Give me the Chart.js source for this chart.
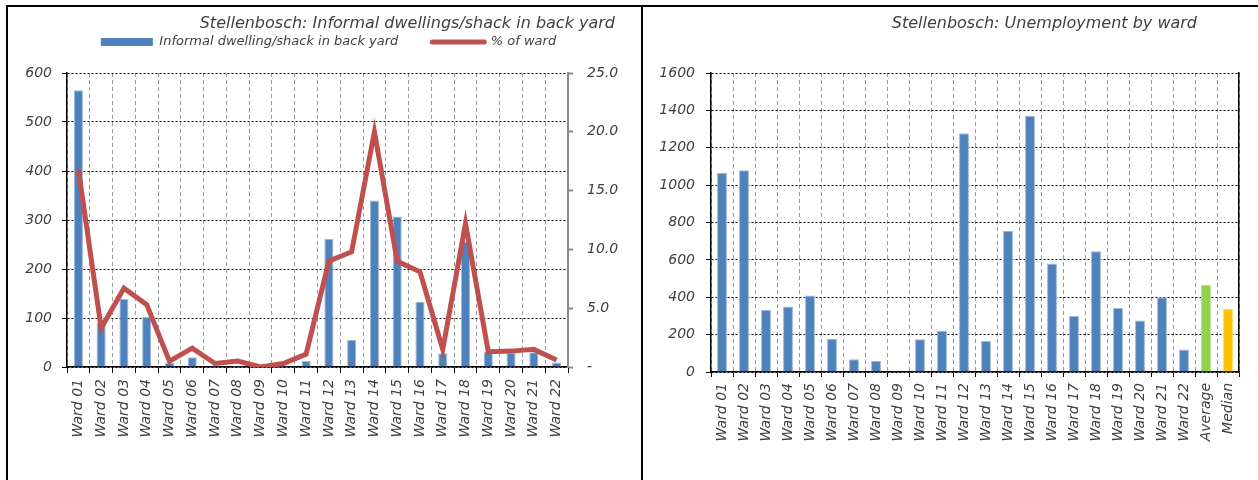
<!DOCTYPE html>
<html>
<head>
<meta charset="utf-8">
<title>Stellenbosch wards</title>
<script src="https://cdn.jsdelivr.net/npm/chart.js@4.4.1/dist/chart.umd.min.js"></script>
<style>
    body { margin: 0; background: #fff; width: 1258px; height: 480px; overflow: hidden; position: relative; }
    .frame { position: absolute; background: #000; }
    canvas { position: absolute; top: 8px; }
    #backyardChart { left: 9px; }
    #unemploymentChart { left: 644px; }
</style>
</head>
<body>
<div class="frame" style="left:6px;top:5px;width:1252px;height:2px"></div>
<div class="frame" style="left:6px;top:5px;width:2px;height:475px"></div>
<div class="frame" style="left:641px;top:5px;width:2px;height:475px"></div>
<canvas id="backyardChart" width="631" height="472"></canvas>
<canvas id="unemploymentChart" width="614" height="472"></canvas>

<script>
// ward labels
let wards = ["Ward 01", "Ward 02", "Ward 03", "Ward 04", "Ward 05", "Ward 06", "Ward 07", "Ward 08",
    "Ward 09", "Ward 10", "Ward 11", "Ward 12", "Ward 13", "Ward 14", "Ward 15", "Ward 16",
    "Ward 17", "Ward 18", "Ward 19", "Ward 20", "Ward 21", "Ward 22"];

// left chart: informal dwellings in back yard
let shacks = [565, 90, 139, 102, 8, 20, 3, 2, 0, 2, 13, 261, 55, 340, 307, 133, 28, 256, 31, 29, 30, 9];
let shacksPct = [16.8, 3.3, 6.7, 5.3, 0.5, 1.6, 0.3, 0.5, 0.0, 0.3, 1.1, 9.0, 9.8, 20.0, 9.0, 8.1, 1.5, 12.2, 1.3, 1.35, 1.5, 0.6];
let shackTicks = [0, 100, 200, 300, 400, 500, 600];
let pctTicks = [0, 5, 10, 15, 20, 25];

// right chart: unemployment
let unemployCats = wards.concat(["Average", "Median"]);
let unemployed = [1066, 1079, 332, 351, 410, 177, 68, 59, 4, 175, 221, 1277, 166, 754, 1371, 581,
    300, 646, 342, 275, 400, 121, 465, 337];
let unemployTicks = [0, 200, 400, 600, 800, 1000, 1200, 1400, 1600];

const blue = "#4F81BD";
const red = "#C0504D";
const green = "#92D050";
const orange = "#FFC000";
const textColor = "#404040";

Chart.defaults.font.family = "'DejaVu Sans', sans-serif";
Chart.defaults.font.style = "italic";
Chart.defaults.font.size = 14;
Chart.defaults.color = textColor;
Chart.defaults.animation = false;

// moves title / legend after layout (excel puts them off-centre)
const nudge = {
    id: "nudge",
    afterLayout(chart, args, opts) {
        let t = chart.titleBlock;
        if (t && opts.titleX) {
            t.left += opts.titleX;
            t.right += opts.titleX;
        }
        let l = chart.legend;
        if (l && l.options.display) {
            l.left += opts.legendX || 0;
            l.right += opts.legendX || 0;
            // only the top moves, the legend clips to its own box
            l.top += opts.legendY || 0;
        }
    }
};

function tickList(values) {
    return (scale) => {
        scale.ticks = values.map(v => ({ value: v }));
    };
}

function backyardChart() {
    new Chart("backyardChart", {
        type: "bar",
        data: {
            labels: wards,
            datasets: [{
                label: "Informal dwelling/shack in back yard",
                data: shacks,
                backgroundColor: blue,
                borderColor: "#9DB8DA",
                borderWidth: 1,
                barPercentage: 0.8,
                categoryPercentage: 0.5,
                yAxisID: "y",
                order: 2
            }, {
                type: "line",
                label: "% of ward",
                data: shacksPct,
                borderColor: red,
                backgroundColor: red,
                borderWidth: 5,
                pointRadius: 0,
                tension: 0,
                yAxisID: "y1",
                order: 1
            }]
        },
        options: {
            responsive: false,
            layout: { padding: 0 },
            plugins: {
                nudge: { titleX: -25, legendX: 4, legendY: -31.7 },
                tooltip: { enabled: false },
                title: {
                    display: true,
                    text: "Stellenbosch: Informal dwellings/shack in back yard",
                    align: "end",
                    font: { size: 16, weight: "normal" },
                    padding: { top: 6, bottom: 0 }
                },
                legend: {
                    position: "top",
                    maxHeight: 39.8,
                    labels: {
                        usePointStyle: true,
                        pointStyleWidth: 52,
                        boxHeight: 8,
                        padding: 34,
                        font: { size: 13 },
                        generateLabels: (chart) => {
                            let items = Chart.defaults.plugins.legend.labels.generateLabels(chart);
                            items.forEach(it => {
                                if (it.datasetIndex === 0) {
                                    it.pointStyle = "rect";
                                    it.lineWidth = 0;
                                    it.fillStyle = blue;
                                } else {
                                    it.pointStyle = "line";
                                    it.lineWidth = 5;
                                    it.strokeStyle = red;
                                    it.lineCap = "round";
                                }
                            });
                            return items.sort((a, b) => a.datasetIndex - b.datasetIndex);
                        }
                    }
                }
            },
            scales: {
                x: {
                    grid: { color: "#9a9a9a", tickColor: "#000", tickLength: 6, offset: true },
                    border: { color: "#000", width: 1.5, dash: [4, 3] },
                    ticks: { minRotation: 90, maxRotation: 90, autoSkip: false, padding: 6 },
                    afterFit: (s) => { s.height = 113; }
                },
                y: {
                    min: 0,
                    max: 600,
                    afterBuildTicks: tickList(shackTicks),
                    ticks: { padding: 10 },
                    grid: { color: "#000", tickColor: "#000", tickLength: 5 },
                    border: { color: "#000", width: 1.5, dash: [2, 2] },
                    afterFit: (s) => { s.width = 58; }
                },
                y1: {
                    position: "right",
                    min: 0,
                    max: 25,
                    afterBuildTicks: tickList(pctTicks),
                    ticks: {
                        padding: 14,
                        callback: (v) => v === 0 ? "-" : v.toFixed(1)
                    },
                    grid: { drawOnChartArea: false, tickColor: "#8c8c8c", tickLength: 5, tickWidth: 2 },
                    border: { color: "#8c8c8c", width: 2 },
                    afterFit: (s) => { s.width = 72; }
                }
            }
        },
        plugins: [nudge]
    });
}

function unemploymentChart() {
    let barColors = unemployCats.map(c => c === "Average" ? green : c === "Median" ? orange : blue);
    let borderColors = unemployCats.map(c => c === "Average" ? "#B4E07F" : c === "Median" ? "#FFD766" : "#9DB8DA");

    new Chart("unemploymentChart", {
        type: "bar",
        data: {
            labels: unemployCats,
            datasets: [{
                label: "Unemployed",
                data: unemployed,
                backgroundColor: barColors,
                borderColor: borderColors,
                borderWidth: 1,
                barPercentage: 0.9,
                categoryPercentage: 0.5
            }]
        },
        options: {
            responsive: false,
            layout: { padding: { right: 19 } },
            plugins: {
                nudge: { titleX: -42 },
                tooltip: { enabled: false },
                legend: { display: false },
                title: {
                    display: true,
                    text: "Stellenbosch: Unemployment by ward",
                    align: "end",
                    font: { size: 16, weight: "normal" },
                    padding: { top: 6, bottom: 39.8 }
                }
            },
            scales: {
                x: {
                    grid: { color: "#9a9a9a", tickColor: "#000", tickLength: 5, offset: true },
                    border: { color: "#000", width: 1.5, dash: [4, 3] },
                    ticks: { minRotation: 90, maxRotation: 90, autoSkip: false, padding: 6 },
                    afterFit: (s) => { s.height = 108; }
                },
                y: {
                    min: 0,
                    max: 1600,
                    afterBuildTicks: tickList(unemployTicks),
                    ticks: { padding: 11, callback: (v) => String(v) },
                    grid: { color: "#000", tickColor: "#000", tickLength: 5 },
                    border: { color: "#000", width: 1.5, dash: [2, 2] },
                    afterFit: (s) => { s.width = 67; }
                },
                edge: {
                    // solid frame line on the right of the plot
                    position: "right",
                    ticks: { display: false },
                    grid: { drawOnChartArea: false, drawTicks: false },
                    border: { color: "#000", width: 1.5 },
                    afterFit: (s) => { s.width = 0; }
                }
            }
        },
        plugins: [nudge]
    });
}

window.onload = () => {
    backyardChart();
    unemploymentChart();
};
</script>
</body>
</html>
